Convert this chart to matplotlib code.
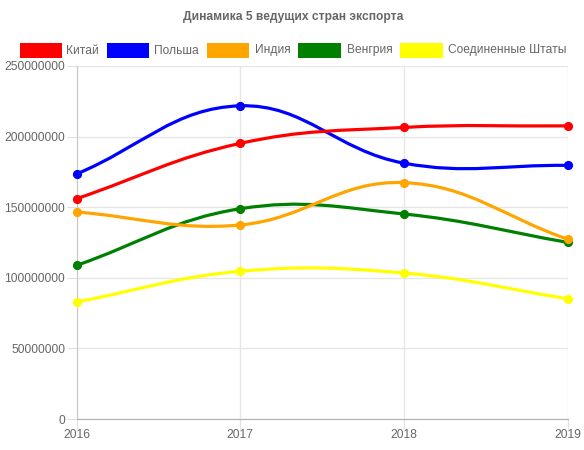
import numpy as np
import matplotlib
matplotlib.use("Agg")
import matplotlib.pyplot as plt
from matplotlib.path import Path
from matplotlib.patches import PathPatch, Rectangle

years = ["2016", "2017", "2018", "2019"]
series_names = ["Китай", "Польша", "Индия", "Венгрия", "Соединенные Штаты"]
colors = ["#ff0000", "#0000ff", "#ffa500", "#008000", "#ffff00"]
china = [156e6, 195.2e6, 206.5e6, 207.6e6]
poland = [173.5e6, 221.8e6, 181.2e6, 179.6e6]
india = [146.6e6, 137.4e6, 167.4e6, 127.4e6]
hungary = [108.8e6, 148.9e6, 145.2e6, 125.1e6]
usa = [82.9e6, 104.6e6, 103.4e6, 85.2e6]
values = [china, poland, india, hungary, usa]
yticks = [0, 50000000, 100000000, 150000000, 200000000, 250000000]

FS = 8.64  # 12px
W, H = 584, 450
fig = plt.figure(figsize=(W / 100, H / 100), dpi=100)
L, R, T, B = 76.5, 567.5, 66, 419
ax = fig.add_axes([L / W, 1 - B / H, (R - L) / W, (B - T) / H])
ax.set_xlim(0, len(years) - 1)
ax.set_ylim(0, 250e6)
ax.set_xticks(range(len(years)))
ax.set_xticklabels(years)
ax.set_yticks(yticks)
ax.set_yticklabels([str(v) for v in yticks])
ax.grid(True, color="#e6e6e6", linewidth=1)
ax.set_axisbelow(True)
for s in ["top", "right"]:
    ax.spines[s].set_visible(False)
ax.spines["left"].set_color("#c8c8c8")
ax.spines["bottom"].set_color("#b0b0b0")
ax.tick_params(axis="both", length=7.2, color="#e0e0e0", labelcolor="#666666",
               labelsize=FS)
ax.tick_params(axis="y", pad=1.0)
ax.tick_params(axis="x", pad=0.3)
for lab in ax.get_xticklabels() + ax.get_yticklabels():
    lab.set_family("Liberation Sans")

fig.canvas.draw()
tr = ax.transData
inv = tr.inverted()


def spline_path(xs, ys, tension=0.4):
    pts = tr.transform(np.column_stack([xs, ys]))
    n = len(pts)
    cps_prev, cps_next = [], []
    bb = ax.bbox
    for i in range(n):
        p0 = pts[i - 1] if i > 0 else pts[i]
        p1 = pts[i]
        p2 = pts[i + 1] if i < n - 1 else pts[i]
        d01 = np.hypot(*(p1 - p0))
        d12 = np.hypot(*(p2 - p1))
        tot = d01 + d12
        s01 = d01 / tot if tot else 0
        s12 = d12 / tot if tot else 0
        fa, fb = tension * s01, tension * s12
        cp_p = p1 - fa * (p2 - p0)
        cp_n = p1 + fb * (p2 - p0)
        cp_p[1] = np.clip(cp_p[1], bb.y0, bb.y1)
        cp_n[1] = np.clip(cp_n[1], bb.y0, bb.y1)
        cps_prev.append(cp_p)
        cps_next.append(cp_n)
    verts = [pts[0]]
    codes = [Path.MOVETO]
    for i in range(n - 1):
        verts += [cps_next[i], cps_prev[i + 1], pts[i + 1]]
        codes += [Path.CURVE4] * 3
    verts = inv.transform(np.array(verts))
    return Path(verts, codes)


xs = np.arange(len(years))
nser = len(values)
for k, (vals, c) in enumerate(zip(values, colors)):
    z = 10 + (nser - k) * 2
    patch = PathPatch(spline_path(xs, vals), facecolor="none", edgecolor=c,
                      linewidth=2.3, zorder=z, clip_on=False,
                      capstyle="round", joinstyle="round")
    ax.add_patch(patch)
    ax.plot(xs, vals, linestyle="none", marker="o", markersize=5.6,
            color=c, zorder=z + 1, clip_on=False)

fig.text(293 / W, 1 - 17 / H, "Динамика 5 ведущих стран экспорта",
         ha="center", va="center", fontsize=FS, fontweight="bold",
         color="#666666", family="Liberation Sans")

box_x = [19.6, 106.7, 206.7, 298.3, 400.0]
text_x = [66.0, 154.0, 255.0, 346.7, 447.8]
for name, c, bx, tx in zip(series_names, colors, box_x, text_x):
    fig.patches.append(Rectangle((bx / W, 1 - 57.7 / H), 42.7 / W, 15.0 / H,
                                 transform=fig.transFigure, facecolor=c,
                                 edgecolor="none"))
    fig.text(tx / W, 1 - 50.5 / H, name, ha="left", va="center", fontsize=FS,
             color="#666666", family="Liberation Sans")

fig.savefig("out.png", dpi=100)
